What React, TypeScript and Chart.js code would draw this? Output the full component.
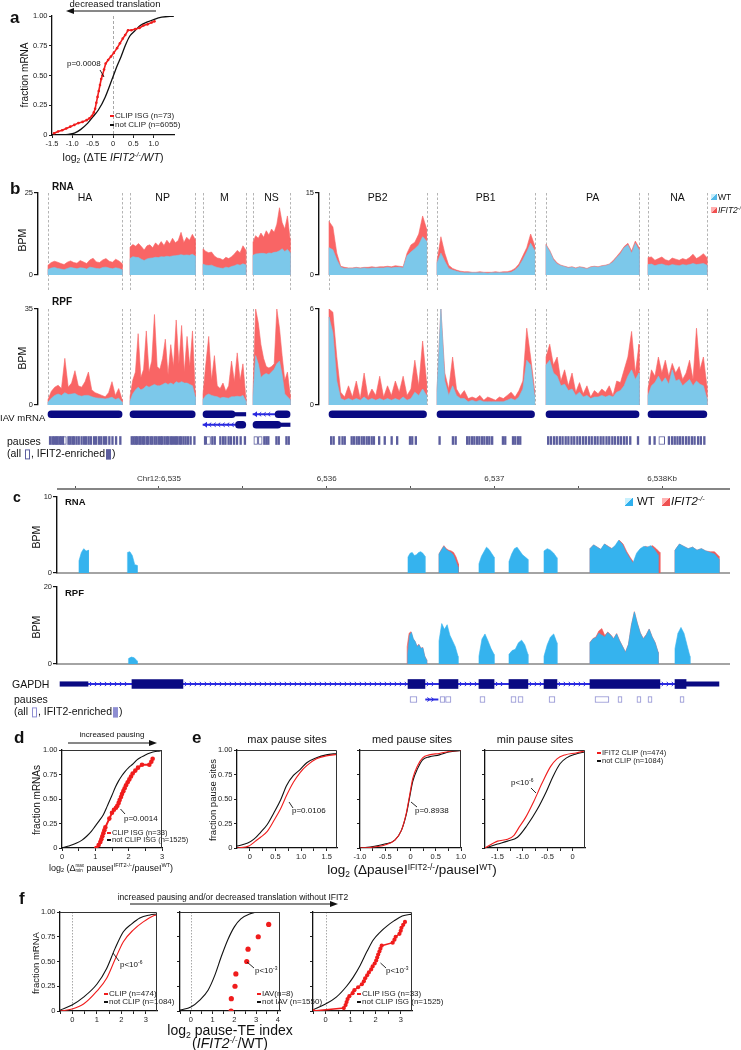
import React, { useEffect, useRef } from 'react';
import { Chart, registerables } from 'chart.js';

Chart.register(...registerables);
const FONT = '"Liberation Sans", Arial, Helvetica, sans-serif';
Chart.defaults.font.family = FONT;
Chart.defaults.color = '#222';

/* ============================ DATA ============================ */
// ---- Panel a : CDF of log2 dTE ----
const A_NOTCLIP_X = [-1.3, -1.1, -0.95, -0.8, -0.62, -0.5, -0.36, -0.19, 0, 0.1, 0.2, 0.3, 0.41, 0.55, 0.67, 0.85, 1.0, 1.2, 1.5];
const A_NOTCLIP_Y = [0, 0.005, 0.015, 0.045, 0.1, 0.15, 0.21, 0.32, 0.49, 0.58, 0.66, 0.75, 0.83, 0.88, 0.92, 0.95, 0.97, 0.99, 1.0];
const A_CLIP_X = [-1.45, -1.35, -1.25, -1.15, -1.05, -0.95, -0.85, -0.75, -0.65, -0.58, -0.52, -0.47, -0.44, -0.41, -0.38, -0.35, -0.32, -0.29, -0.26, -0.22, -0.18, -0.12, -0.05, 0.02, 0.1, 0.17, 0.24, 0.3, 0.37, 0.45, 0.55, 0.65, 0.75, 0.85, 0.95, 1.02];
const A_CLIP_Y = [0.015, 0.03, 0.04, 0.055, 0.07, 0.085, 0.1, 0.11, 0.125, 0.14, 0.16, 0.19, 0.22, 0.27, 0.32, 0.37, 0.42, 0.47, 0.5, 0.55, 0.6, 0.63, 0.66, 0.69, 0.73, 0.77, 0.81, 0.84, 0.88, 0.88, 0.89, 0.9, 0.92, 0.93, 0.945, 0.955];

const CDF_Y_TICKS = [0, 0.25, 0.5, 0.75, 1];
const CDF_Y_LABELS = ['0', '0.25', '0.50', '0.75', '1.00'];

// ---- Panel b : IAV segments (nt) ----
const LEFT_SEGS = ['HA', 'NP', 'M', 'NS'];
const LEFT_START = [0, 1968, 3720, 4920];
const LEFT_LEN = [1778, 1565, 1027, 890];
const RIGHT_SEGS = ['PB2', 'PB1', 'PA', 'NA'];
const RIGHT_START = [0, 2592, 5208, 7656];
const RIGHT_LEN = [2341, 2341, 2233, 1413];

const RNA_KO_HA = [3.0, 3.8, 4.2, 3.9, 3.5, 3.2, 3.9, 4.3, 3.8, 3.6, 4.4, 4.0, 3.5, 4.6, 5.1, 4.0, 3.8, 4.6, 5.0, 4.2, 3.9, 4.8, 4.3, 3.5];
const RNA_WT_HA = [1.7, 2.1, 2.3, 2.0, 1.8, 1.6, 2.0, 2.3, 2.1, 1.9, 2.2, 2.1, 1.8, 2.4, 2.2, 2.0, 1.9, 2.3, 2.4, 2.1, 1.9, 2.2, 2.0, 1.6];
const RNA_KO_NP = [8.5, 9.3, 8.8, 9.6, 8.7, 7.6, 8.9, 9.2, 8.3, 9.8, 8.9, 10.2, 9.0, 10.6, 9.5, 11.2, 9.8, 10.5, 13.0, 9.9, 11.5, 10.6, 12.4, 10.8];
const RNA_WT_NP = [5.0, 5.6, 5.4, 5.3, 4.8, 4.4, 4.9, 5.1, 5.2, 5.4, 5.3, 5.6, 5.5, 5.7, 5.6, 5.8, 5.9, 6.0, 6.2, 6.0, 6.1, 6.0, 6.3, 5.8];
const RNA_KO_M = [8.0, 7.2, 6.8, 7.0, 5.8, 5.2, 5.0, 4.6, 5.4, 5.0, 5.6, 6.4, 7.5, 6.8, 8.9, 7.6];
const RNA_WT_M = [3.3, 3.0, 2.9, 3.0, 2.6, 2.3, 2.1, 2.0, 2.4, 2.2, 2.6, 2.8, 3.2, 3.0, 3.4, 3.1];
const RNA_KO_NS = [10.0, 12.0, 11.2, 12.8, 11.5, 13.5, 12.2, 14.0, 13.0, 15.5, 20.5, 16.0, 14.0, 18.0, 11.0];
const RNA_WT_NS = [6.0, 6.4, 6.5, 6.6, 6.6, 6.4, 6.7, 6.6, 6.9, 7.0, 7.4, 8.0, 7.2, 7.8, 6.8];
const RNA_KO_PB2 = [9.8, 8.8, 4.0, 1.6, 1.4, 1.3, 1.3, 1.4, 1.3, 1.4, 1.4, 1.5, 1.4, 1.5, 1.5, 1.6, 1.5, 1.7, 1.6, 1.5, 4.0, 5.5, 6.0, 7.5, 10.8, 8.5];
const RNA_WT_PB2 = [5.0, 4.6, 2.8, 1.4, 1.2, 1.2, 1.2, 1.3, 1.2, 1.3, 1.2, 1.3, 1.3, 1.3, 1.3, 1.4, 1.3, 1.4, 1.4, 1.3, 3.5, 4.2, 4.8, 5.5, 7.0, 6.2];
const RNA_KO_PB1 = [2.5, 7.0, 4.0, 1.8, 1.2, 0.9, 0.7, 0.6, 0.6, 0.5, 0.5, 0.6, 0.5, 0.5, 0.5, 0.6, 0.5, 0.6, 0.6, 0.8, 1.2, 2.0, 3.5, 5.0, 7.5, 5.5];
const RNA_WT_PB1 = [2.2, 4.0, 2.5, 1.2, 0.9, 0.7, 0.5, 0.4, 0.4, 0.4, 0.4, 0.4, 0.4, 0.3, 0.4, 0.4, 0.4, 0.4, 0.4, 0.5, 0.9, 1.6, 2.8, 4.2, 5.8, 4.5];
const RNA_KO_PA = [5.6, 4.5, 3.0, 2.2, 1.8, 1.6, 1.4, 1.5, 1.3, 1.5, 1.4, 1.2, 1.5, 1.6, 1.5, 1.7, 1.8, 2.0, 2.6, 3.4, 4.2, 5.2, 5.8, 4.4, 6.2, 5.0];
const RNA_WT_PA = [5.4, 4.3, 2.8, 2.0, 1.7, 1.5, 1.3, 1.4, 1.2, 1.4, 1.3, 1.1, 1.4, 1.5, 1.4, 1.6, 1.7, 1.9, 2.4, 3.2, 3.9, 5.0, 5.5, 4.0, 5.8, 4.6];
const RNA_KO_NA = [3.2, 3.3, 2.7, 3.0, 3.3, 2.8, 2.6, 3.1, 2.9, 2.7, 3.0, 2.8, 3.2, 3.8, 3.0, 3.4, 3.9, 3.2];
const RNA_WT_NA = [1.9, 2.0, 1.7, 1.9, 2.0, 1.8, 1.7, 1.9, 1.8, 1.7, 1.9, 1.8, 1.9, 2.1, 1.9, 2.0, 2.1, 1.8];

const RPF_KO_HA = [2.0, 5.0, 6.5, 7.2, 6.0, 17.0, 6.5, 8.0, 12.5, 7.0, 6.5, 8.5, 12.0, 5.5, 4.5, 4.0, 3.5, 3.0, 4.5, 8.5, 3.5, 6.0, 2.0];
const RPF_WT_HA = [1.0, 2.5, 3.5, 4.0, 3.5, 4.5, 3.8, 4.0, 4.2, 3.5, 3.2, 3.5, 3.5, 3.0, 2.6, 2.5, 2.4, 2.2, 2.5, 2.8, 2.0, 2.5, 1.0];
const RPF_KO_NP = [3.0, 9.0, 12.0, 26.0, 10.0, 13.0, 27.0, 12.0, 16.0, 33.0, 14.0, 13.0, 17.0, 24.0, 11.0, 22.0, 14.0, 31.0, 15.0, 29.0, 12.0, 25.0, 14.0, 27.0, 5.0];
const RPF_WT_NP = [1.5, 4.0, 5.5, 6.5, 5.5, 6.0, 7.0, 6.5, 7.0, 7.5, 7.0, 7.0, 7.5, 8.0, 7.5, 8.0, 7.5, 8.5, 8.0, 8.5, 8.0, 8.0, 7.5, 7.0, 3.0];
const RPF_KO_M = [4.0, 15.0, 25.0, 9.0, 18.0, 7.0, 6.0, 8.0, 5.0, 7.0, 16.0, 8.5, 19.0, 9.0, 15.0, 3.0];
const RPF_WT_M = [2.0, 3.5, 4.0, 3.5, 3.2, 3.0, 2.5, 2.8, 2.6, 2.5, 3.0, 3.0, 3.2, 3.0, 3.5, 1.5];
const RPF_KO_NS = [5.0, 35.0, 30.0, 22.0, 17.0, 14.0, 13.5, 14.0, 15.0, 35.0, 28.0, 18.0, 9.0, 12.0, 4.0];
const RPF_WT_NS = [3.0, 18.0, 15.0, 10.0, 11.0, 11.5, 11.0, 12.0, 13.0, 15.0, 16.0, 11.0, 4.0, 3.0, 2.0];
const RPF_KO_PB2 = [6.0, 5.8, 3.0, 0.8, 0.5, 1.2, 0.5, 1.5, 0.4, 2.0, 0.5, 1.0, 0.6, 1.8, 0.5, 1.2, 0.6, 1.5, 0.8, 1.8, 0.6, 1.0, 2.8, 1.2, 4.0, 1.5];
const RPF_WT_PB2 = [5.5, 4.5, 1.5, 0.4, 0.3, 0.4, 0.3, 0.4, 0.3, 0.5, 0.3, 0.4, 0.3, 0.4, 0.3, 0.4, 0.3, 0.4, 0.3, 0.5, 0.3, 0.4, 0.8, 0.6, 1.0, 0.6];
const RPF_KO_PB1 = [1.0, 6.0, 2.0, 1.0, 3.0, 1.0, 0.6, 0.9, 0.4, 0.5, 0.4, 0.6, 0.3, 0.5, 0.4, 0.3, 0.5, 0.4, 0.6, 0.8, 0.5, 0.9, 1.5, 4.8, 3.0, 1.0];
const RPF_WT_PB1 = [0.8, 6.0, 1.5, 0.6, 1.2, 0.6, 0.4, 0.4, 0.2, 0.3, 0.2, 0.3, 0.2, 0.2, 0.2, 0.2, 0.2, 0.2, 0.3, 0.4, 0.3, 0.5, 1.0, 2.8, 2.5, 0.6];
const RPF_KO_PA = [3.0, 3.8, 2.5, 3.0, 1.5, 2.2, 1.2, 2.0, 0.8, 1.4, 0.7, 1.2, 0.5, 0.9, 0.7, 1.0, 0.8, 1.2, 0.6, 1.5, 1.4, 2.2, 3.0, 4.6, 2.0, 3.8];
const RPF_WT_PA = [2.5, 2.8, 2.0, 1.8, 1.2, 1.3, 0.9, 1.0, 0.6, 0.8, 0.5, 0.6, 0.4, 0.5, 0.5, 0.6, 0.5, 0.6, 0.5, 0.8, 0.9, 1.2, 1.8, 2.2, 1.6, 2.0];
const RPF_KO_NA = [1.0, 2.2, 1.8, 3.0, 2.0, 2.8, 1.8, 2.6, 2.0, 2.4, 1.6, 2.0, 2.8, 1.6, 4.8, 2.2, 3.0, 1.2];
const RPF_WT_NA = [0.6, 1.2, 1.4, 1.8, 1.4, 1.7, 1.3, 2.2, 1.5, 1.6, 1.2, 1.4, 1.6, 1.2, 1.5, 1.3, 1.2, 0.4];

// IAV mRNA models: [segment, start nt, end nt, row]
const IAV_CDS = [['HA', 0, 1778, 'r1'], ['NP', 0, 1565, 'r1'], ['M', 0, 770, 'r1'], ['NS', 530, 890, 'r1'], ['M', 780, 1027, 'r2'], ['NS', 0, 670, 'r2'], ['PB2', 0, 2341, 'r1'], ['PB1', 0, 2341, 'r1'], ['PA', 0, 2233, 'r1'], ['NA', 0, 1413, 'r1']];
const IAV_UTR = [['M', 770, 1027, 'r1'], ['NS', 670, 890, 'r2']];
const IAV_INTRON = [['M', 0, 780, 'r2'], ['NS', 0, 530, 'r1']];

// pause sites (nt within segment)
const P_HA = [30, 85, 128, 176, 212, 258, 296, 338, 472, 515, 566, 606, 664, 718, 786, 846, 896, 955, 1008, 1084, 1136, 1204, 1258, 1324, 1376, 1452, 1528, 1614, 1716];
const P_NP = [22, 68, 112, 148, 203, 238, 292, 327, 384, 418, 474, 516, 572, 618, 674, 722, 758, 812, 864, 906, 962, 1008, 1064, 1106, 1164, 1206, 1262, 1314, 1368, 1434, 1526];
const P_M = [30, 204, 262, 396, 464, 518, 594, 648, 724, 796, 884, 986];
const P_NS = [252, 302, 348, 542, 598, 782, 838];
const P_PB2 = [32, 92, 228, 304, 358, 524, 578, 644, 698, 764, 818, 884, 938, 1004, 1058, 1184, 1318, 1484, 1616, 1924, 1978, 2064];
const P_PB1 = [42, 362, 428, 704, 758, 824, 878, 944, 998, 1064, 1118, 1184, 1238, 1304, 1562, 1618, 1804, 1858, 1924, 1978];
const P_PA = [32, 98, 172, 238, 312, 378, 452, 518, 592, 658, 732, 798, 872, 938, 1012, 1078, 1152, 1218, 1292, 1358, 1432, 1498, 1572, 1638, 1712, 1778, 1852, 1918, 2002, 2188];
const P_NA = [22, 138, 482, 558, 622, 688, 752, 818, 892, 958, 1032, 1098, 1182, 1248, 1332];
const P_OPEN = [['HA', 370, 440], ['M', 80, 180], ['NS', 20, 110], ['NS', 130, 220], ['NA', 260, 400]];

// ---- Panel c : GAPDH locus (kb on chr12) ----
const C_XMIN = 6534.392;
const C_XMAX = 6538.399;
const CHR_TICKS = [6534.5, 6535, 6535.5, 6536, 6536.5, 6537, 6537.5, 6538];
const CHR_LABELS = ['', 'Chr12:6,535', '', '6,536', '', '6,537', '', '6,538Kb'];

const C_RNA_WT_RANGES = [[6534.523, 6534.580], [6534.812, 6534.870], [6536.485, 6536.586], [6536.670, 6536.783], [6536.908, 6536.998], [6537.087, 6537.200], [6537.296, 6537.373], [6537.570, 6537.976], [6538.077, 6538.339]];
const C_RNA_WT_VALUES = [
  [1.6, 2.7, 3.2, 2.9, 3.0],
  [2.7, 2.8, 2.3, 1.1, 1.0],
  [2.1, 2.6, 2.7, 2.3, 2.4, 2.7, 2.8, 2.6, 2.2],
  [2.5, 3.0, 3.5, 3.1, 2.9, 2.7, 2.4, 1.6, 0.8],
  [1.2, 2.2, 2.8, 3.4, 3.1, 2.6, 2.1],
  [1.5, 2.5, 3.2, 3.4, 2.9, 2.4, 2.1, 1.8],
  [2.9, 3.2, 3.0, 2.6, 2.0],
  [3.2, 3.7, 3.4, 3.1, 3.8, 3.5, 3.2, 3.6, 4.3, 3.8, 2.8, 2.0, 1.3, 2.6, 3.2, 3.5, 3.4, 3.6, 3.1, 2.4],
  [3.0, 3.8, 3.5, 3.2, 3.4, 3.0, 3.2, 2.9, 2.7, 2.5, 1.8],
];
const C_RNA_KO_RANGES = [[6536.670, 6536.786], [6537.570, 6537.987], [6538.077, 6538.339]];
const C_RNA_KO_VALUES = [
  [2.5, 3.1, 3.6, 3.2, 3.0, 2.9, 2.7, 2.1, 1.2],
  [3.2, 3.7, 3.4, 3.1, 3.8, 3.5, 3.2, 3.6, 4.3, 3.8, 2.8, 2.0, 1.3, 2.6, 3.2, 3.5, 3.4, 3.6, 3.2, 2.7],
  [3.0, 3.8, 3.5, 3.2, 3.4, 3.0, 3.2, 2.9, 2.8, 2.8, 2.2],
];
const C_RPF_WT_RANGES = [[6534.818, 6534.870], [6536.483, 6536.596], [6536.670, 6536.783], [6536.908, 6536.998], [6537.087, 6537.200], [6537.296, 6537.373], [6537.570, 6537.976], [6538.077, 6538.166]];
const C_RPF_WT_VALUES = [
  [1.4, 1.8, 1.6, 0.8],
  [2.5, 7.5, 8.2, 6.5, 5.8, 4.5, 5.0, 4.0, 4.2, 2.0, 1.0],
  [6.0, 10.5, 9.0, 10.2, 7.5, 6.0, 4.5, 2.0],
  [2.0, 6.5, 7.8, 6.0, 4.0, 2.5],
  [2.5, 3.5, 3.8, 5.5, 6.2, 5.0, 2.5],
  [2.0, 5.0, 7.0, 7.8, 5.5],
  [5.5, 6.5, 6.8, 8.0, 7.5, 7.0, 8.2, 7.5, 6.5, 7.8, 6.0, 4.5, 3.0, 5.0, 10.0, 13.5, 10.5, 8.0, 6.5, 7.5, 9.0, 7.0, 5.5, 3.0],
  [4.0, 8.0, 9.5, 8.0, 5.0, 2.0],
];
const C_RPF_KO_RANGES = [[6536.480, 6536.596], [6537.570, 6537.976]];
const C_RPF_KO_VALUES = [
  [4.5, 8.0, 8.4, 6.6, 5.9, 4.6, 5.1, 4.1, 4.3, 2.1, 1.1],
  [5.6, 6.6, 7.0, 8.6, 9.2, 7.4, 8.3, 7.6, 6.6, 7.9, 6.1, 4.6, 3.1, 5.1, 10.1, 13.6, 10.6, 8.1, 6.6, 7.6, 9.1, 7.1, 5.6, 3.1],
];

const GAPDH_EXONS = [[6534.839, 6535.143], [6536.485, 6536.586], [6536.670, 6536.783], [6536.908, 6536.998], [6537.087, 6537.200], [6537.296, 6537.373], [6537.570, 6537.987], [6538.077, 6538.143]];
const GAPDH_UTRS = [[6534.41, 6534.577], [6538.143, 6538.339]];
const GAPDH_INTRONS = [[6534.577, 6534.839], [6535.143, 6536.485], [6536.586, 6536.670], [6536.783, 6536.908], [6536.998, 6537.087], [6537.200, 6537.296], [6537.373, 6537.570], [6537.987, 6538.077]];
const GAPDH_PAUSES = [[6536.497, 6536.538], [6536.676, 6536.705], [6536.709, 6536.741], [6536.914, 6536.944], [6537.099, 6537.129], [6537.141, 6537.171], [6537.326, 6537.361], [6537.600, 6537.683], [6537.737, 6537.761], [6537.850, 6537.874], [6537.916, 6537.940], [6538.107, 6538.131]];
const GAPDH_PAUSE_INTRON = [[6536.590, 6536.664]];

// ---- Panel d ----
const D_NOTCLIP_X = [0, 0.2, 0.44, 0.6, 0.74, 0.88, 0.99, 1.12, 1.24, 1.36, 1.49, 1.6, 1.69, 1.8, 1.89, 2.0, 2.14, 2.25, 2.39, 2.5, 2.64, 2.8, 2.94, 3.0];
const D_NOTCLIP_Y = [0, 0.02, 0.05, 0.08, 0.12, 0.17, 0.22, 0.28, 0.34, 0.43, 0.53, 0.62, 0.68, 0.74, 0.78, 0.82, 0.86, 0.9, 0.93, 0.95, 0.97, 0.985, 0.99, 1.0];
const D_CLIP_X = [1.03, 1.1, 1.15, 1.18, 1.21, 1.24, 1.27, 1.3, 1.42, 1.5, 1.56, 1.62, 1.66, 1.7, 1.73, 1.77, 1.8, 1.84, 1.88, 1.92, 1.97, 2.02, 2.07, 2.12, 2.2, 2.28, 2.4, 2.62, 2.68, 2.72];
const D_CLIP_Y = [0.0, 0.03, 0.06, 0.09, 0.12, 0.15, 0.18, 0.21, 0.3, 0.36, 0.39, 0.41, 0.43, 0.46, 0.49, 0.52, 0.55, 0.58, 0.61, 0.64, 0.67, 0.7, 0.73, 0.76, 0.79, 0.82, 0.85, 0.85, 0.88, 0.91];

// ---- Panel e ----
const E_MAX_NOT_X = [-0.25, -0.04, 0.08, 0.21, 0.34, 0.47, 0.6, 0.72, 0.85, 0.98, 1.11, 1.3, 1.49, 1.7];
const E_MAX_NOT_Y = [0.02, 0.05, 0.09, 0.16, 0.24, 0.36, 0.49, 0.64, 0.74, 0.8, 0.87, 0.92, 0.95, 0.965];
const E_MAX_CLIP_X = [-0.25, -0.02, 0.11, 0.21, 0.34, 0.47, 0.6, 0.72, 0.85, 0.98, 1.11, 1.3, 1.49, 1.7];
const E_MAX_CLIP_Y = [0.0, 0.02, 0.07, 0.11, 0.17, 0.28, 0.4, 0.54, 0.67, 0.77, 0.84, 0.91, 0.94, 0.955];
const E_MED_NOT_X = [-1.0, -0.8, -0.51, -0.31, -0.18, -0.085, -0.02, 0.045, 0.14, 0.24, 0.37, 0.57, 0.76, 1.0];
const E_MED_NOT_Y = [0.0, 0.01, 0.04, 0.08, 0.18, 0.34, 0.51, 0.68, 0.81, 0.9, 0.93, 0.95, 0.98, 0.995];
const E_MED_CLIP_X = [-1.0, -0.8, -0.51, -0.31, -0.18, -0.085, -0.02, 0.045, 0.14, 0.24, 0.37, 0.57, 0.76, 1.0];
const E_MED_CLIP_Y = [0.0, 0.005, 0.03, 0.08, 0.18, 0.35, 0.53, 0.71, 0.84, 0.92, 0.95, 0.965, 0.985, 0.995];
const E_MIN_NOT_X = [-1.75, -1.5, -1.3, -1.1, -0.91, -0.71, -0.52, -0.39, -0.25, -0.12, 0.07, 0.25];
const E_MIN_NOT_Y = [0.0, 0.04, 0.07, 0.11, 0.23, 0.39, 0.58, 0.73, 0.86, 0.92, 0.96, 0.98];
const E_MIN_CLIP_X = [-1.75, -1.5, -1.3, -1.17, -1.07, -0.94, -0.77, -0.61, -0.44, -0.31, -0.15, 0.07, 0.25];
const E_MIN_CLIP_Y = [0.0, 0.07, 0.09, 0.13, 0.21, 0.31, 0.48, 0.66, 0.83, 0.91, 0.95, 0.97, 0.99];

// ---- Panel f ----
const F1_NOT_X = [-0.49, -0.01, 0.46, 1.0, 1.4, 1.74, 2.08, 2.42, 2.75, 3.16, 3.44];
const F1_NOT_Y = [0.01, 0.06, 0.14, 0.27, 0.43, 0.63, 0.8, 0.88, 0.94, 0.97, 0.98];
const F1_CLIP_X = [-0.49, -0.01, 0.46, 1.0, 1.4, 1.74, 2.08, 2.49, 2.89, 3.29, 3.44];
const F1_CLIP_Y = [0.0, 0.02, 0.07, 0.2, 0.33, 0.52, 0.7, 0.82, 0.9, 0.96, 0.97];
const F2_NOT_X = [-0.5, 0, 0.41, 0.79, 1.1, 1.4, 1.7, 2.0, 2.3, 2.7, 3.15, 4.1];
const F2_NOT_Y = [0.01, 0.04, 0.11, 0.21, 0.36, 0.55, 0.72, 0.85, 0.93, 0.98, 1.0, 1.0];
const F2_IAV_X = [1.85, 1.86, 2.03, 2.07, 2.57, 2.63, 3.1, 3.58];
const F2_IAV_Y = [0, 0.125, 0.25, 0.375, 0.5, 0.625, 0.75, 0.875];
const F3_NOT_X = [-0.51, 0, 0.43, 0.84, 1.1, 1.38, 1.65, 1.91, 2.19, 2.46, 2.73, 3.06, 3.48];
const F3_NOT_Y = [0.01, 0.07, 0.14, 0.25, 0.34, 0.46, 0.6, 0.72, 0.8, 0.86, 0.91, 0.96, 0.98];
const F3_CLIP_X = [-0.49, 0.73, 0.8, 0.84, 0.88, 0.95, 1.08, 1.15, 1.3, 1.45, 1.53, 1.58, 1.66, 1.73, 1.82, 1.88, 1.96, 2.02, 2.06, 2.1, 2.15, 2.19, 2.24, 2.68, 2.75, 2.8, 2.95, 3.0, 3.03, 3.1, 3.17];
const F3_CLIP_Y = [0.0, 0.03, 0.06, 0.09, 0.12, 0.15, 0.18, 0.21, 0.24, 0.27, 0.3, 0.33, 0.36, 0.39, 0.42, 0.45, 0.48, 0.51, 0.54, 0.57, 0.6, 0.63, 0.66, 0.69, 0.72, 0.75, 0.78, 0.81, 0.84, 0.87, 0.9];

/* ============================ STYLE ============================ */
const B_BLUE = '#7cc8ea';
const B_RED = '#f96565';
const C_BLUE = '#35b3ee';
const C_RED = '#ee5a5a';
const NAVY = '#0a0a82';
const INTRON_BLUE = '#2a2ae0';
const PAUSE_PURPLE = '#5c5e9e';
const GAPDH_PAUSE = '#8e8ed2';
const CURVE_RED = '#f01c1c';

/* ============================ HELPERS ============================ */
const pts = (xs: number[], ys: number[]) => xs.map((x, i) => ({ x, y: ys[i] }));
const spreadBlock = (s: number, e: number, vals: number[]) => [
  { x: s, y: 0 },
  ...vals.map((v, i) => ({ x: s + ((e - s) * i) / (vals.length - 1), y: v })),
  { x: e, y: 0 },
];

function baseOptions(m: number[], showX: boolean, showY: boolean, xTop = false): any {
  const [ml, mt, mr, mb] = m;
  return {
    responsive: false, maintainAspectRatio: false, animation: false, devicePixelRatio: 1, events: [],
    layout: { autoPadding: false, padding: { left: showY ? 0 : ml, top: showX && xTop ? 0 : mt, right: mr, bottom: showX && !xTop ? 0 : mb } },
    plugins: { legend: { display: false }, tooltip: { enabled: false }, title: { display: false } },
  };
}
const fitTo = (size: number, vertical: boolean) => (s: any) => {
  if (vertical) s.width = size; else s.height = size;
  s.paddingLeft = 0; s.paddingRight = 0; s.paddingTop = 0; s.paddingBottom = 0;
};
const fixTicks = (values: number[]) => (s: any) => { s.ticks = values.map((v) => ({ value: v })); };

const vlinePlugin = {
  id: 'vline',
  beforeDatasetsDraw(chart: any, _a: any, o: any) {
    if (!o || !o.values) return;
    const { ctx, chartArea } = chart;
    const xs = chart.scales.x;
    ctx.save();
    ctx.strokeStyle = o.color; ctx.lineWidth = o.width || 1; ctx.setLineDash(o.dash || [2, 2]);
    o.values.forEach((v: number) => {
      const px = Math.round(xs.getPixelForValue(v)) + 0.5;
      ctx.beginPath(); ctx.moveTo(px, chartArea.top); ctx.lineTo(px, chartArea.bottom + (o.extBottom || 0)); ctx.stroke();
    });
    ctx.restore();
  },
};
const framePlugin = {
  id: 'frame',
  afterDatasetsDraw(chart: any, _a: any, o: any) {
    if (!o || !o.color) return;
    const { ctx, chartArea: { left, top, right, bottom } } = chart;
    ctx.save(); ctx.strokeStyle = o.color; ctx.lineWidth = o.width || 1;
    ctx.beginPath(); ctx.moveTo(left, top + 0.5); ctx.lineTo(right - 0.5, top + 0.5); ctx.lineTo(right - 0.5, bottom); ctx.stroke();
    ctx.restore();
  },
};
const segLabelPlugin = {
  id: 'seglabels',
  afterDraw(chart: any, _a: any, o: any) {
    if (!o || !o.names) return;
    const { ctx, chartArea } = chart; const xs = chart.scales.x;
    ctx.save(); ctx.fillStyle = '#111'; ctx.font = `10.5px ${FONT}`; ctx.textAlign = 'center'; ctx.textBaseline = 'middle';
    o.names.forEach((n: string, i: number) => ctx.fillText(n, xs.getPixelForValue(o.starts[i] + o.lens[i] / 2), chartArea.top + 5));
    ctx.restore();
  },
};
const intronPlugin = {
  id: 'introns',
  afterDatasetsDraw(chart: any, _a: any, o: any) {
    if (!o || o.dataset == null) return;
    const meta = chart.getDatasetMeta(o.dataset); const ctx = chart.ctx;
    ctx.save(); ctx.strokeStyle = o.color; ctx.fillStyle = o.color; ctx.lineWidth = 1;
    meta.data.forEach((el: any) => {
      const p = el.getProps(['x', 'base', 'y'], true);
      const x0 = Math.min(p.x, p.base), x1 = Math.max(p.x, p.base); const d = o.dir;
      for (let cx = x0 + (o.head ? 7 : 3); cx < x1 - 2; cx += o.spacing) {
        ctx.beginPath(); ctx.moveTo(cx - 1.2 * d, p.y - 2); ctx.lineTo(cx + 1.2 * d, p.y); ctx.lineTo(cx - 1.2 * d, p.y + 2); ctx.stroke();
      }
      if (o.head) {
        const hx = d < 0 ? x0 : x1;
        ctx.beginPath(); ctx.moveTo(hx, p.y); ctx.lineTo(hx - 4 * d, p.y - 3); ctx.lineTo(hx - 4 * d, p.y + 3); ctx.closePath(); ctx.fill();
      }
    });
    ctx.restore();
  },
};

function ChartBox({ area, margin, build }: any) {
  const ref = useRef<HTMLCanvasElement | null>(null);
  const [l, t, r, b] = area; const [ml, mt, mr, mb] = margin;
  const w = r - l + ml + mr; const h = b - t + mt + mb;
  useEffect(() => {
    if (!ref.current) return;
    const chart = new Chart(ref.current, build(margin));
    return () => chart.destroy();
  }, []);
  return <canvas ref={ref} width={w} height={h} style={{ position: 'absolute', left: l - ml, top: t - mt, width: w, height: h, display: 'block' }} />;
}

const lineDs = (xs: number[], ys: number[], color: string, width = 1.2) => ({
  data: pts(xs, ys), showLine: true, borderColor: color, borderWidth: width, pointRadius: 0, fill: false, cubicInterpolationMode: 'monotone',
});
const dotDs = (xs: number[], ys: number[], color: string, r: number, lw: number) => ({
  data: pts(xs, ys), showLine: lw > 0, borderColor: color, backgroundColor: color, pointBackgroundColor: color, borderWidth: lw, pointRadius: r, pointBorderWidth: 0, fill: false,
});

function cdfConfig(o: any) {
  return (m: number[]) => {
    const opts = baseOptions(m, true, true);
    opts.scales = {
      x: {
        type: 'linear', bounds: 'data', min: o.xMin, max: o.xMax, afterFit: fitTo(m[3], false), afterBuildTicks: fixTicks(o.xTicks),
        ticks: { autoSkip: false, maxRotation: 0, minRotation: 0, padding: 1, font: { size: 7.5 }, color: '#222', callback: (_v: any, i: number) => o.xLabels[i] },
        grid: { drawOnChartArea: false, drawTicks: true, tickLength: 3, color: '#222', lineWidth: 1 },
        border: { display: true, color: '#111', width: 1.3 },
      },
      y: {
        type: 'linear', bounds: 'data', min: 0, max: 1, afterFit: fitTo(m[0], true), afterBuildTicks: fixTicks(CDF_Y_TICKS),
        ticks: { autoSkip: false, padding: 1.5, font: { size: 7.5 }, color: '#222', callback: (_v: any, i: number) => (o.yLabels ? CDF_Y_LABELS[i] : '') },
        grid: { drawOnChartArea: false, drawTicks: true, tickLength: 3, color: '#222', lineWidth: 1 },
        border: { display: true, color: '#111', width: 1.3 },
      },
    };
    opts.plugins.vline = o.zero ? { values: [0], color: '#a8a8a8', dash: o.zeroDash || [2, 2], width: 1 } : false;
    opts.plugins.frame = o.frame ? { color: '#333', width: 1 } : false;
    return { type: 'scatter', data: { datasets: o.datasets }, options: opts, plugins: [vlinePlugin, framePlugin] };
  };
}

function coverageConfig(o: any) {
  return (m: number[]) => {
    const opts = baseOptions(m, !!o.baseline, true);
    const datasets: any[] = [];
    o.wt.forEach((d: any) => datasets.push({ data: d, showLine: true, fill: 'origin', backgroundColor: o.blue, borderColor: o.blue, borderWidth: 0.6, pointRadius: 0, order: 0 }));
    o.ko.forEach((d: any) => datasets.push({ data: d, showLine: true, fill: 'origin', backgroundColor: o.red, borderColor: o.red, borderWidth: 0.6, pointRadius: 0, order: 1 }));
    opts.scales = {
      x: {
        type: 'linear', min: o.xMin, max: o.xMax, display: !!o.baseline, afterFit: fitTo(m[3], false),
        ticks: { display: false }, grid: { display: true, drawOnChartArea: false, drawTicks: false }, border: { display: true, color: '#a4a4a4', width: 2 },
      },
      y: {
        type: 'linear', min: 0, max: o.yMax, afterFit: fitTo(m[0], true), afterBuildTicks: fixTicks([0, o.yMax]),
        ticks: { font: { size: 7.5 }, color: '#222', padding: 1, callback: (v: any) => String(v) },
        grid: { drawOnChartArea: false, drawTicks: true, tickLength: 4, color: '#111', lineWidth: 1.2 },
        border: { display: true, color: '#111', width: 1.4 },
      },
    };
    opts.plugins.vline = o.seglines ? { values: o.seglines, color: '#b4b4b4', dash: [2.5, 2], width: 1, extBottom: o.extBottom || 0 } : false;
    opts.plugins.seglabels = o.names ? { names: o.names, starts: o.starts, lens: o.lens } : false;
    return { type: 'scatter', data: { datasets }, options: opts, plugins: [vlinePlugin, segLabelPlugin] };
  };
}

function geneConfig(o: any) {
  return (m: number[]) => {
    const opts = baseOptions(m, false, false);
    opts.indexAxis = 'y';
    opts.scales = {
      x: { type: 'linear', min: o.xMin, max: o.xMax, display: false },
      y: { type: 'category', labels: o.rows, display: false, offset: true },
    };
    opts.plugins.introns = o.intron || false;
    return { type: 'bar', data: { labels: o.rows, datasets: o.datasets }, options: opts, plugins: [intronPlugin] };
  };
}

function chrAxisConfig() {
  return (m: number[]) => {
    const opts = baseOptions(m, true, false, true);
    opts.scales = {
      x: {
        type: 'linear', position: 'top', min: C_XMIN, max: C_XMAX, afterFit: fitTo(m[1], false), afterBuildTicks: fixTicks(CHR_TICKS),
        ticks: { autoSkip: false, maxRotation: 0, padding: 2, font: { size: 8 }, color: '#333', callback: (_v: any, i: number) => CHR_LABELS[i] },
        grid: { drawOnChartArea: false, drawTicks: true, tickLength: 3, color: '#555', lineWidth: 1 },
        border: { display: true, color: '#858585', width: 2 },
      },
      y: { display: false },
    };
    return { type: 'scatter', data: { datasets: [] }, options: opts };
  };
}

/* ---- panel b assembly ---- */
const segOffset = (name: string) => {
  const li = LEFT_SEGS.indexOf(name);
  return li >= 0 ? LEFT_START[li] : RIGHT_START[RIGHT_SEGS.indexOf(name)];
};
const segBlocks = (starts: number[], lens: number[], arrs: number[][]) => arrs.map((a, i) => spreadBlock(starts[i], starts[i] + lens[i], a));
const segEdges = (starts: number[], lens: number[]) => starts.flatMap((s, i) => [s, s + lens[i]]);
const modelBars = (list: any[], segs: string[]) => list.filter((t) => segs.includes(t[0])).map((t) => ({ x: [segOffset(t[0]) + t[1], segOffset(t[0]) + t[2]], y: t[3] }));
const pauseBars = (segs: string[], arrs: number[][]) => arrs.flatMap((a, i) => a.map((p) => ({ x: [segOffset(segs[i]) + p, segOffset(segs[i]) + p + 40], y: 'p' })));
const openBars = (segs: string[]) => P_OPEN.filter((t: any) => segs.includes(t[0])).map((t: any) => ({ x: [segOffset(t[0]) + t[1], segOffset(t[0]) + t[2]], y: 'p' }));

const LEFT_X = [-240, 5856];
const RIGHT_X = [-240, 9096];

function iavGene(segs: string[], xr: number[]) {
  return geneConfig({
    xMin: xr[0], xMax: xr[1], rows: ['r1', 'r2'],
    datasets: [
      { data: modelBars(IAV_CDS, segs), backgroundColor: NAVY, barThickness: 7, borderRadius: 3.5, borderSkipped: false, grouped: false },
      { data: modelBars(IAV_UTR, segs), backgroundColor: NAVY, barThickness: 3.5, borderSkipped: false, grouped: false },
      { data: modelBars(IAV_INTRON, segs), backgroundColor: INTRON_BLUE, barThickness: 1.3, borderSkipped: false, grouped: false },
    ],
    intron: { dataset: 2, color: INTRON_BLUE, dir: -1, spacing: 4.5, head: true },
  });
}
function iavPauses(segs: string[], arrs: number[][], xr: number[]) {
  return geneConfig({
    xMin: xr[0], xMax: xr[1], rows: ['p'],
    datasets: [
      { data: pauseBars(segs, arrs), backgroundColor: PAUSE_PURPLE, barThickness: 8, borderSkipped: false, grouped: false },
      { data: openBars(segs), backgroundColor: '#ffffff', borderColor: PAUSE_PURPLE, borderWidth: 1, barThickness: 8, borderSkipped: false, grouped: false },
    ],
  });
}

const rangeBlocks = (ranges: number[][], vals: number[][]) => ranges.map((r, i) => spreadBlock(r[0], r[1], vals[i]));
const rangeBars = (ranges: number[][], row: string) => ranges.map((r) => ({ x: [r[0], r[1]], y: row }));

/* ============================ TEXT HELPERS ============================ */
function T({ x, y, s = 8, a = 'start', b = false, i = false, r = false, c = '#111', children }: any) {
  const tx = a === 'middle' ? '-50%' : a === 'end' ? '-100%' : '0';
  const transform = r ? 'translate(-50%,-50%) rotate(-90deg)' : `translate(${tx},-50%)`;
  return (
    <div style={{ position: 'absolute', left: x, top: y, fontSize: s, fontWeight: b ? 'bold' : 'normal', fontStyle: i ? 'italic' : 'normal', color: c, whiteSpace: 'nowrap', lineHeight: 1, transform, fontFamily: FONT }}>
      {children}
    </div>
  );
}
const Sup = ({ children }: any) => <span style={{ fontSize: '62%', verticalAlign: '0.55em', lineHeight: 0 }}>{children}</span>;
const Sub = ({ children }: any) => <span style={{ fontSize: '62%', verticalAlign: '-0.3em', lineHeight: 0 }}>{children}</span>;
function Leg({ x, y, color, text, s = 7.5 }: any) {
  return (
    <>
      <div style={{ position: 'absolute', left: x, top: y - 0.8, width: 4, height: 1.6, background: color }} />
      <T x={x + 5} y={y} s={s} c="#222">{text}</T>
    </>
  );
}
function Swatch({ x, y, light, dark, size = 7 }: any) {
  return <div style={{ position: 'absolute', left: x, top: y - size / 2, width: size, height: size, background: `linear-gradient(135deg, ${light} 50%, ${dark} 50%)` }} />;
}
const Box = ({ fill, color, w = 5, h = 10 }: any) => (
  <span style={{ display: 'inline-block', width: w, height: h, border: `1px solid ${color}`, background: fill ? color : '#fff', verticalAlign: 'middle', margin: '0 1px', boxSizing: 'border-box' }} />
);

/* ============================ APP ============================ */
export default function App() {
  const leftSegLines = segEdges(LEFT_START, LEFT_LEN);
  const rightSegLines = segEdges(RIGHT_START, RIGHT_LEN);
  return (
    <div style={{ position: 'absolute', left: 0, top: 0, width: 741, height: 1050, background: '#fff', overflow: 'hidden', fontFamily: FONT, color: '#111' }}>
      {/* ---------- panel a ---------- */}
      <ChartBox area={[52, 16, 174, 135]} margin={[24, 4, 6, 14]} build={cdfConfig({
        xMin: -1.5, xMax: 1.5, xTicks: [-1.5, -1, -0.5, 0, 0.5, 1], xLabels: ['-1.5', '-1.0', '-0.5', '0', '0.5', '1.0'], yLabels: true, frame: false, zero: true, zeroDash: [3, 2],
        datasets: [dotDs(A_CLIP_X, A_CLIP_Y, CURVE_RED, 1.3, 1.6), lineDs(A_NOTCLIP_X, A_NOTCLIP_Y, '#111', 1.3)],
      })} />

      {/* ---------- panel b ---------- */}
      <ChartBox area={[38, 193, 292, 292]} margin={[30, 6, 4, 17]} build={coverageConfig({
        xMin: LEFT_X[0], xMax: LEFT_X[1], yMax: 25, blue: B_BLUE, red: B_RED, seglines: leftSegLines, extBottom: 17, names: LEFT_SEGS, starts: LEFT_START, lens: LEFT_LEN,
        wt: segBlocks(LEFT_START, LEFT_LEN, [RNA_WT_HA, RNA_WT_NP, RNA_WT_M, RNA_WT_NS]),
        ko: segBlocks(LEFT_START, LEFT_LEN, [RNA_KO_HA, RNA_KO_NP, RNA_KO_M, RNA_KO_NS]),
      })} />
      <ChartBox area={[319, 193, 708, 292]} margin={[25, 6, 4, 17]} build={coverageConfig({
        xMin: RIGHT_X[0], xMax: RIGHT_X[1], yMax: 15, blue: B_BLUE, red: B_RED, seglines: rightSegLines, extBottom: 17, names: RIGHT_SEGS, starts: RIGHT_START, lens: RIGHT_LEN,
        wt: segBlocks(RIGHT_START, RIGHT_LEN, [RNA_WT_PB2, RNA_WT_PB1, RNA_WT_PA, RNA_WT_NA]),
        ko: segBlocks(RIGHT_START, RIGHT_LEN, [RNA_KO_PB2, RNA_KO_PB1, RNA_KO_PA, RNA_KO_NA]),
      })} />
      <ChartBox area={[38, 309, 292, 407]} margin={[30, 6, 4, 2]} build={coverageConfig({
        xMin: LEFT_X[0], xMax: LEFT_X[1], yMax: 35, blue: B_BLUE, red: B_RED, seglines: leftSegLines,
        wt: segBlocks(LEFT_START, LEFT_LEN, [RPF_WT_HA, RPF_WT_NP, RPF_WT_M, RPF_WT_NS]),
        ko: segBlocks(LEFT_START, LEFT_LEN, [RPF_KO_HA, RPF_KO_NP, RPF_KO_M, RPF_KO_NS]),
      })} />
      <ChartBox area={[319, 309, 708, 407]} margin={[25, 6, 4, 2]} build={coverageConfig({
        xMin: RIGHT_X[0], xMax: RIGHT_X[1], yMax: 6, blue: B_BLUE, red: B_RED, seglines: rightSegLines,
        wt: segBlocks(RIGHT_START, RIGHT_LEN, [RPF_WT_PB2, RPF_WT_PB1, RPF_WT_PA, RPF_WT_NA]),
        ko: segBlocks(RIGHT_START, RIGHT_LEN, [RPF_KO_PB2, RPF_KO_PB1, RPF_KO_PA, RPF_KO_NA]),
      })} />
      <ChartBox area={[38, 409, 292, 430]} margin={[0, 0, 0, 0]} build={iavGene(LEFT_SEGS, LEFT_X)} />
      <ChartBox area={[319, 409, 708, 430]} margin={[0, 0, 0, 0]} build={iavGene(RIGHT_SEGS, RIGHT_X)} />
      <ChartBox area={[38, 436, 292, 445]} margin={[0, 0, 0, 0]} build={iavPauses(LEFT_SEGS, [P_HA, P_NP, P_M, P_NS], LEFT_X)} />
      <ChartBox area={[319, 436, 708, 445]} margin={[0, 0, 0, 0]} build={iavPauses(RIGHT_SEGS, [P_PB2, P_PB1, P_PA, P_NA], RIGHT_X)} />

      {/* ---------- panel c ---------- */}
      <ChartBox area={[57, 489, 729, 491]} margin={[0, 20, 12, 0]} build={chrAxisConfig()} />
      <ChartBox area={[57, 497, 729, 573]} margin={[25, 6, 6, 3]} build={coverageConfig({
        xMin: C_XMIN, xMax: C_XMAX, yMax: 10, blue: C_BLUE, red: C_RED, baseline: true,
        wt: rangeBlocks(C_RNA_WT_RANGES, C_RNA_WT_VALUES), ko: rangeBlocks(C_RNA_KO_RANGES, C_RNA_KO_VALUES),
      })} />
      <ChartBox area={[57, 587, 729, 664]} margin={[25, 6, 6, 3]} build={coverageConfig({
        xMin: C_XMIN, xMax: C_XMAX, yMax: 20, blue: C_BLUE, red: C_RED, baseline: true,
        wt: rangeBlocks(C_RPF_WT_RANGES, C_RPF_WT_VALUES), ko: rangeBlocks(C_RPF_KO_RANGES, C_RPF_KO_VALUES),
      })} />
      <ChartBox area={[57, 679, 729, 689]} margin={[0, 0, 0, 0]} build={geneConfig({
        xMin: C_XMIN, xMax: C_XMAX, rows: ['g'],
        datasets: [
          { data: rangeBars(GAPDH_EXONS, 'g'), backgroundColor: NAVY, barThickness: 9, borderSkipped: false, grouped: false },
          { data: rangeBars(GAPDH_UTRS, 'g'), backgroundColor: NAVY, barThickness: 4.5, borderSkipped: false, grouped: false },
          { data: rangeBars(GAPDH_INTRONS, 'g'), backgroundColor: INTRON_BLUE, barThickness: 1.3, borderSkipped: false, grouped: false },
        ],
        intron: { dataset: 2, color: INTRON_BLUE, dir: 1, spacing: 5 },
      })} />
      <ChartBox area={[57, 696, 729, 703]} margin={[0, 0, 0, 0]} build={geneConfig({
        xMin: C_XMIN, xMax: C_XMAX, rows: ['p'],
        datasets: [
          { data: rangeBars(GAPDH_PAUSES, 'p'), backgroundColor: '#ffffff', borderColor: GAPDH_PAUSE, borderWidth: 1, barThickness: 6, borderSkipped: false, grouped: false },
          { data: rangeBars(GAPDH_PAUSE_INTRON, 'p'), backgroundColor: INTRON_BLUE, barThickness: 1.3, borderSkipped: false, grouped: false },
        ],
        intron: { dataset: 1, color: INTRON_BLUE, dir: 1, spacing: 4 },
      })} />

      {/* ---------- panel d ---------- */}
      <ChartBox area={[62, 750, 162, 848]} margin={[22, 4, 6, 14]} build={cdfConfig({
        xMin: 0, xMax: 3, xTicks: [0, 0.5, 1, 1.5, 2, 2.5, 3], xLabels: ['0', '', '1', '', '2', '', '3'], yLabels: true, frame: true,
        datasets: [dotDs(D_CLIP_X, D_CLIP_Y, CURVE_RED, 2.3, 2), lineDs(D_NOTCLIP_X, D_NOTCLIP_Y, '#111', 1.1)],
      })} />

      {/* ---------- panel e ---------- */}
      <ChartBox area={[237, 750, 337, 848]} margin={[22, 4, 6, 14]} build={cdfConfig({
        xMin: -0.25, xMax: 1.7, xTicks: [0, 0.25, 0.5, 0.75, 1, 1.25, 1.5], xLabels: ['0', '', '0.5', '', '1.0', '', '1.5'], yLabels: true, frame: true,
        datasets: [lineDs(E_MAX_CLIP_X, E_MAX_CLIP_Y, CURVE_RED, 1.1), lineDs(E_MAX_NOT_X, E_MAX_NOT_Y, '#111', 1.1)],
      })} />
      <ChartBox area={[360, 750, 461, 848]} margin={[8, 4, 8, 14]} build={cdfConfig({
        xMin: -1, xMax: 1, xTicks: [-1, -0.75, -0.5, -0.25, 0, 0.25, 0.5, 0.75, 1], xLabels: ['-1.0', '', '-0.5', '', '0', '', '0.5', '', '1.0'], yLabels: false, frame: true,
        datasets: [lineDs(E_MED_CLIP_X, E_MED_CLIP_Y, CURVE_RED, 1.1), lineDs(E_MED_NOT_X, E_MED_NOT_Y, '#111', 1.1)],
      })} />
      <ChartBox area={[485, 750, 585, 848]} margin={[8, 4, 6, 14]} build={cdfConfig({
        xMin: -1.75, xMax: 0.25, xTicks: [-1.5, -1.25, -1, -0.75, -0.5, -0.25, 0], xLabels: ['-1.5', '', '-1.0', '', '-0.5', '', '0'], yLabels: false, frame: true,
        datasets: [lineDs(E_MIN_CLIP_X, E_MIN_CLIP_Y, CURVE_RED, 1.1), lineDs(E_MIN_NOT_X, E_MIN_NOT_Y, '#111', 1.1)],
      })} />

      {/* ---------- panel f ---------- */}
      <ChartBox area={[60, 912, 157, 1011]} margin={[22, 4, 6, 14]} build={cdfConfig({
        xMin: -0.5, xMax: 3.45, xTicks: [-0.5, 0, 0.5, 1, 1.5, 2, 2.5, 3], xLabels: ['', '0', '', '1', '', '2', '', '3'], yLabels: true, frame: true, zero: true, zeroDash: [1.5, 1.5],
        datasets: [lineDs(F1_CLIP_X, F1_CLIP_Y, CURVE_RED, 1.1), lineDs(F1_NOT_X, F1_NOT_Y, '#111', 1.1)],
      })} />
      <ChartBox area={[180, 912, 280, 1011]} margin={[8, 4, 6, 14]} build={cdfConfig({
        xMin: -0.5, xMax: 4.1, xTicks: [-0.5, 0, 0.5, 1, 1.5, 2, 2.5, 3, 3.5, 4], xLabels: ['', '0', '', '1', '', '2', '', '3', '', '4'], yLabels: false, frame: true, zero: true, zeroDash: [1.5, 1.5],
        datasets: [dotDs(F2_IAV_X, F2_IAV_Y, CURVE_RED, 2.6, 0), lineDs(F2_NOT_X, F2_NOT_Y, '#111', 1.1)],
      })} />
      <ChartBox area={[313, 912, 412, 1011]} margin={[8, 4, 6, 14]} build={cdfConfig({
        xMin: -0.5, xMax: 3.45, xTicks: [-0.5, 0, 0.5, 1, 1.5, 2, 2.5, 3], xLabels: ['', '0', '', '1', '', '2', '', '3'], yLabels: false, frame: true, zero: true, zeroDash: [1.5, 1.5],
        datasets: [dotDs(F3_CLIP_X, F3_CLIP_Y, CURVE_RED, 2.1, 1.5), lineDs(F3_NOT_X, F3_NOT_Y, '#111', 1.1)],
      })} />

      {/* ---------- annotations ---------- */}
      <svg width={741} height={1050} style={{ position: 'absolute', left: 0, top: 0, pointerEvents: 'none' }}>
        <line x1={72} y1={11} x2={156} y2={11} stroke="#111" strokeWidth={1} />
        <polygon points="66,11 74,8 74,14" fill="#111" />
        <line x1={68} y1={743} x2={150} y2={743} stroke="#111" strokeWidth={1} />
        <polygon points="157,743 149,740 149,746" fill="#111" />
        <line x1={130} y1={904} x2={331} y2={904} stroke="#111" strokeWidth={1} />
        <polygon points="338,904 330,901 330,907" fill="#111" />
        <g stroke="#111" strokeWidth={0.9}>
          <line x1={100} y1={70} x2={104} y2={77} />
          <line x1={120.5} y1={809} x2={125} y2={814} />
          <line x1={289} y1={802} x2={293} y2={808} />
          <line x1={411} y1={802} x2={417} y2={807} />
          <line x1={531} y1={788} x2={536} y2={793} />
          <line x1={113} y1={953} x2={119} y2={961} />
          <line x1={247} y1={962} x2={254} y2={968} />
          <line x1={380.5} y1={963} x2={386} y2={968} />
        </g>
      </svg>

      {/* ---------- text: a ---------- */}
      <T x={10} y={17} s={17} b>a</T>
      <T x={115} y={4} s={9.5} a="middle">decreased translation</T>
      <T x={25} y={75} s={10} r>fraction mRNA</T>
      <T x={67} y={64} s={8}>p=0.0008</T>
      <Leg x={110} y={116} color={CURVE_RED} text="CLIP ISG (n=73)" s={8} />
      <Leg x={110} y={125} color="#111" text="not CLIP (n=6055)" s={8} />
      <T x={113} y={157} s={10.5} a="middle">log<Sub>2</Sub> (ΔTE <i>IFIT2<Sup>-/-</Sup>/WT</i>)</T>

      {/* ---------- text: b ---------- */}
      <T x={10} y={188} s={17} b>b</T>
      <T x={52} y={187} s={10} b>RNA</T>
      <T x={52} y={302} s={10} b>RPF</T>
      <T x={22} y={240} s={10.5} r>BPM</T>
      <T x={22} y={358} s={10.5} r>BPM</T>
      <Swatch x={711} y={197} light="#c8eefc" dark="#52b9e8" size={6} />
      <T x={718} y={197} s={8.5}>WT</T>
      <Swatch x={711} y={210} light="#ffb0b0" dark="#f05050" size={6} />
      <T x={718} y={210} s={8.5} i>IFIT2<Sup>-/-</Sup></T>
      <T x={0} y={418} s={9.5}>IAV mRNA</T>
      <T x={7} y={441} s={10.5}>pauses</T>
      <T x={7} y={454} s={10.5}>(all <Box color={PAUSE_PURPLE} />, IFIT2-enriched<Box color={PAUSE_PURPLE} fill />)</T>

      {/* ---------- text: c ---------- */}
      <T x={13} y={497} s={14} b>c</T>
      <T x={65} y={502} s={9.5} b>RNA</T>
      <T x={65} y={593} s={9.5} b>RPF</T>
      <T x={36} y={537} s={10.5} r>BPM</T>
      <T x={36} y={627} s={10.5} r>BPM</T>
      <Swatch x={625} y={502} light="#c8f0fd" dark="#2fb0ee" size={8} />
      <T x={637} y={502} s={11.5}>WT</T>
      <Swatch x={662} y={502} light="#ffb3b3" dark="#ee5050" size={8} />
      <T x={671} y={502} s={11.5} i>IFIT2<Sup>-/-</Sup></T>
      <T x={12} y={684} s={10.5}>GAPDH</T>
      <T x={14} y={699} s={10.5}>pauses</T>
      <T x={14} y={712} s={10.5}>(all <Box color={GAPDH_PAUSE} />, IFIT2-enriched<Box color={GAPDH_PAUSE} fill />)</T>

      {/* ---------- text: d ---------- */}
      <T x={14} y={737} s={17} b>d</T>
      <T x={112} y={735} s={8} a="middle">increased pausing</T>
      <T x={37} y={800} s={10} r>fraction mRNAs</T>
      <T x={124} y={819} s={8}>p=0.0014</T>
      <Leg x={107} y={833} color={CURVE_RED} text="CLIP ISG (n=33)" />
      <Leg x={107} y={840} color="#111" text="not CLIP ISG (n=1525)" />
      <T x={111} y={868} s={9} a="middle">
        log<Sub>2</Sub> (Δ<span style={{ display: 'inline-flex', flexDirection: 'column', fontSize: '50%', lineHeight: 0.95, verticalAlign: 'middle' }}><span>max</span><span>min</span></span> pauseI<Sup>IFIT2-/-</Sup>/pauseI<Sup>WT</Sup>)
      </T>

      {/* ---------- text: e ---------- */}
      <T x={192} y={737} s={17} b>e</T>
      <T x={287} y={739} s={11} a="middle">max pause sites</T>
      <T x={412} y={739} s={11} a="middle">med pause sites</T>
      <T x={535} y={739} s={11} a="middle">min pause sites</T>
      <T x={213} y={800} s={9.5} r>fraction pause sites</T>
      <T x={292} y={811} s={8}>p=0.0106</T>
      <T x={415} y={811} s={8}>p=0.8938</T>
      <T x={511} y={783} s={8}>p&lt;10<Sup>-6</Sup></T>
      <Leg x={597} y={753} color={CURVE_RED} text="IFIT2 CLIP (n=474)" />
      <Leg x={597} y={761} color="#111" text="not CLIP (n=1084)" />
      <T x={412} y={870} s={13.5} a="middle">log<Sub>2</Sub> (ΔpauseI<Sup>IFIT2-/-</Sup>/pauseI<Sup>WT</Sup>)</T>

      {/* ---------- text: f ---------- */}
      <T x={19} y={898} s={17} b>f</T>
      <T x={233} y={897} s={8.5} a="middle">increased pausing and/or decreased translation without IFIT2</T>
      <T x={36} y={963} s={9.5} r>fraction mRNA</T>
      <T x={120} y={965} s={8}>p&lt;10<Sup>-6</Sup></T>
      <T x={255} y={971} s={8}>p&lt;10<Sup>-3</Sup></T>
      <T x={386} y={971} s={8}>p&lt;10<Sup>-3</Sup></T>
      <Leg x={104} y={994} color={CURVE_RED} text="CLIP (n=474)" s={8} />
      <Leg x={104} y={1002} color="#111" text="not CLIP (n=1084)" s={8} />
      <Leg x={257} y={994} color={CURVE_RED} text="IAV(n=8)" s={8} />
      <Leg x={257} y={1002} color="#111" text="not IAV (n=1550)" s={8} />
      <Leg x={357} y={994} color={CURVE_RED} text="CLIP ISG (n=33)" s={8} />
      <Leg x={357} y={1002} color="#111" text="not CLIP ISG (n=1525)" s={8} />
      <T x={230} y={1030} s={14} a="middle">log<Sub>2</Sub> pause-TE index</T>
      <T x={230} y={1043} s={14} a="middle">(<i>IFIT2<Sup>-/-</Sup></i>/WT)</T>
    </div>
  );
}
